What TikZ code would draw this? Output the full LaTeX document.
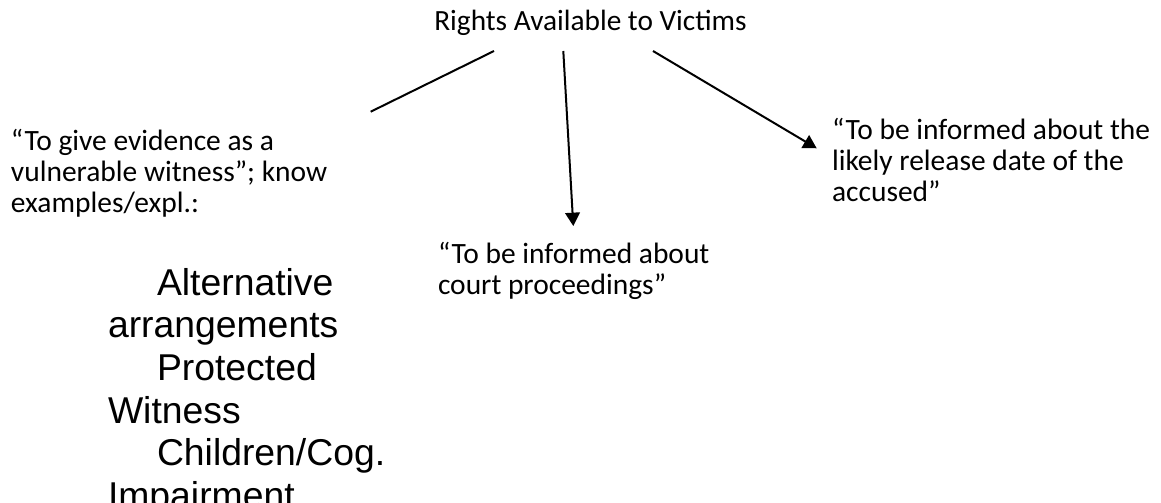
\documentclass[tikz,border=0pt]{standalone}
\usepackage{fontspec}
\setmainfont{Carlito}
\newfontfamily\arialfont{Liberation Sans}
\usetikzlibrary{arrows.meta}
\begin{document}
\begin{tikzpicture}[x=0.75pt,y=-0.75pt,
  txt/.style={inner sep=0pt,outer sep=0pt,anchor=base west,align=flush left,text width=400pt,
    font=\fontsize{22.1}{23.25}\selectfont},
  listtxt/.style={inner sep=0pt,outer sep=0pt,anchor=base west,align=flush left,text width=400pt,
    font=\arialfont\fontsize{28}{32}\selectfont},
  conn/.style={line width=1.5pt},
  arr/.style={conn,-{Triangle[width=11pt,length=10pt]}}]
\useasboundingbox (0,0) rectangle (1161,503);
\clip (0,0) rectangle (1161,503);
\fill[white] (0,0) rectangle (1161,503);
\node[inner sep=0pt,anchor=base,font=\fontsize{22}{23.25}\selectfont] (title) at (590.5,30.5) {Rights Available to Victims};
\node[txt] (left) at (11,151) {“To give evidence as a\\vulnerable witness”; know\\examples/expl.:};
\node[txt] (mid) at (438,263) {“To be informed about\\court proceedings”};
\node[txt] (right) at (832,140) {“To be informed about the\\likely release date of the\\accused”};
\node[listtxt] (list) at (108,295) {\hspace*{36.75pt}Alternative\\arrangements\\\hspace*{36.75pt}Protected\\Witness\\\hspace*{36.75pt}Children/Cog.\\Impairment};
\coordinate (s1) at (494,51);
\coordinate (e1) at (370.7,111.7);
\coordinate (s2) at (563.3,51);
\coordinate (e2) at (573.3,226);
\coordinate (s3) at (653,51);
\coordinate (e3) at (816.7,148.3);
\draw[conn] (s1) -- (e1);
\draw[arr] (s2) -- (e2);
\draw[arr] (s3) -- (e3);
\end{tikzpicture}
\end{document}
